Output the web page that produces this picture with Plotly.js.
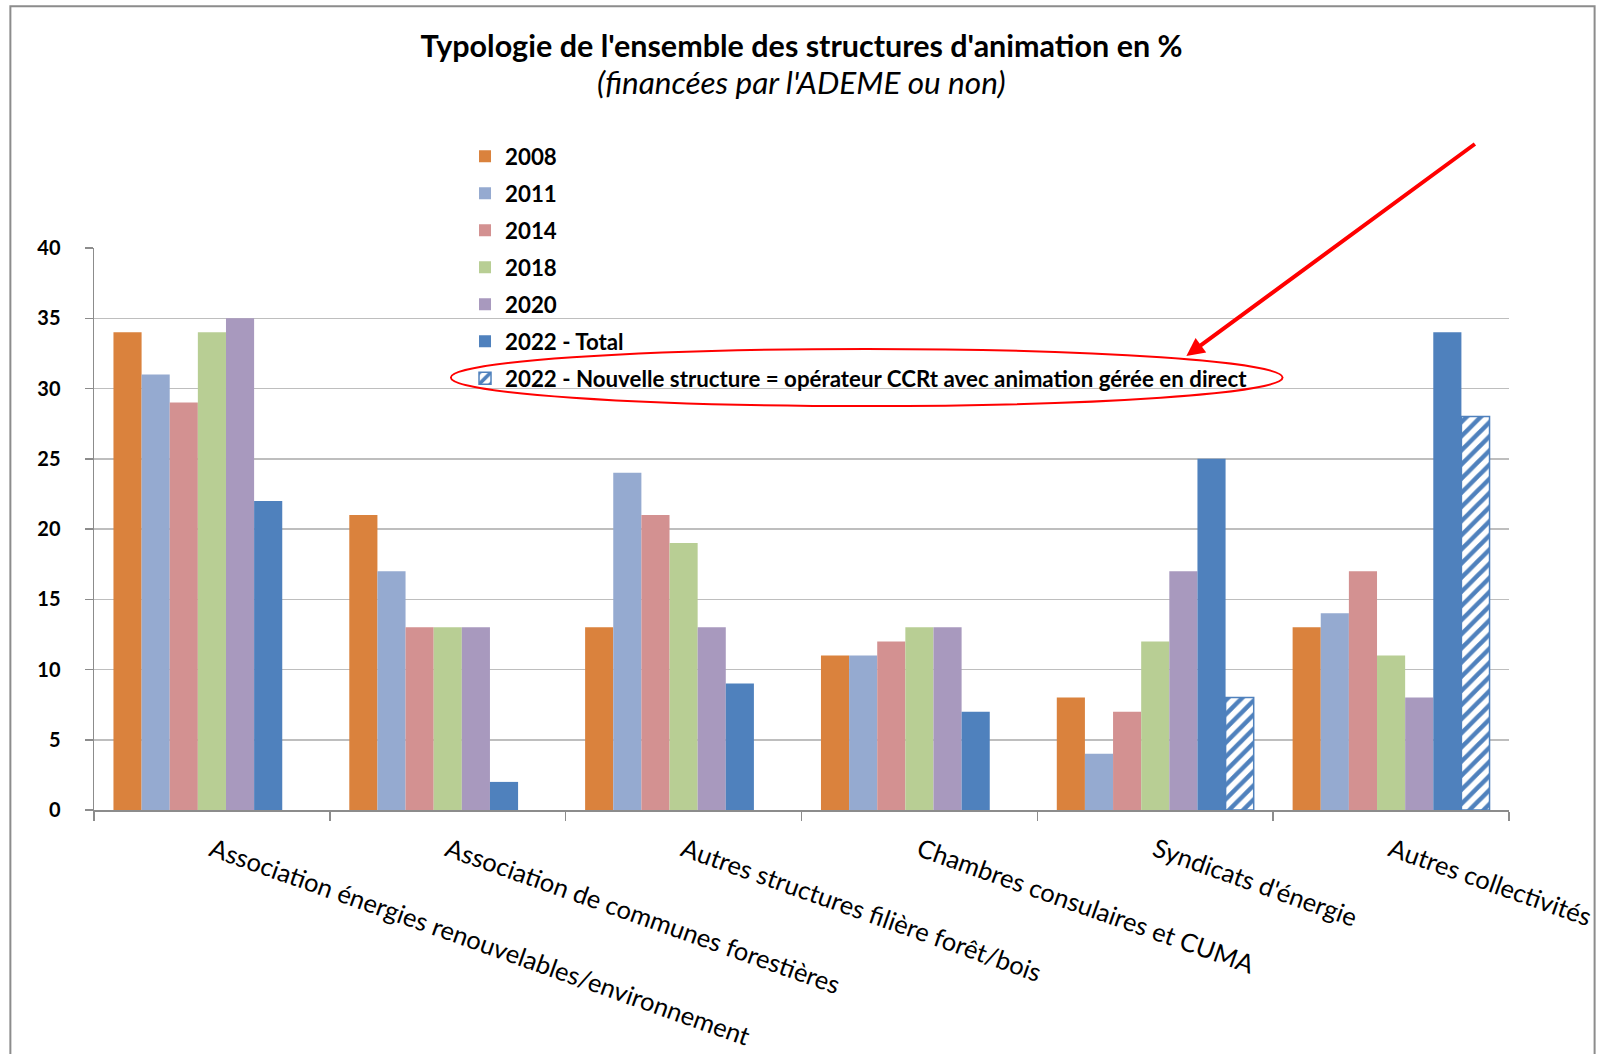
<!DOCTYPE html>
<html>
<head>
<meta charset="utf-8">
<script src="https://cdn.plot.ly/plotly-3.0.1.min.js"></script>
<style>html,body{margin:0;padding:0;background:#fff;}#chart{width:1599px;height:1054px;}</style>
</head>
<body>
<div id="chart"></div>
<script>
const categories = [
  "Association énergies renouvelables/environnement",
  "Association de communes forestières",
  "Autres structures filière forêt/bois",
  "Chambres consulaires et CUMA",
  "Syndicats d'énergie",
  "Autres collectivités"
];
const seriesNames = ["2008", "2011", "2014", "2018", "2020", "2022 - Total",
  "2022 - Nouvelle structure = opérateur CCRt avec animation gérée en direct"];
const v2008 = [34, 21, 13, 11, 8, 13];
const v2011 = [31, 17, 24, 11, 4, 14];
const v2014 = [29, 13, 21, 12, 7, 17];
const v2018 = [34, 13, 19, 13, 12, 11];
const v2020 = [35, 13, 13, 13, 17, 8];
const v2022Total = [22, 2, 9, 7, 25, 34];
const v2022New = [null, null, null, null, 8, 28];
const yTicks = [0, 5, 10, 15, 20, 25, 30, 35, 40];

const colors = ["#DA823D", "#95AAD0", "#D39191", "#B8CE94", "#A899BE", "#4F81BD"];
const values = [v2008, v2011, v2014, v2018, v2020, v2022Total];

const traces = values.map((v, i) => ({
  type: "bar", x: categories, y: v, name: seriesNames[i],
  legendgroup: "g" + i,
  marker: {color: colors[i]},
  hoverinfo: "y+name"
}));
traces.push({
  type: "bar", x: categories, y: v2022New, name: seriesNames[6],
  legendgroup: "g6",
  marker: {
    color: "#ffffff",
    line: {color: "#4F81BD", width: 1.5},
    pattern: {shape: "/", fgcolor: "#4F81BD", bgcolor: "#ffffff", size: 10, solidity: 0.45, fillmode: "replace"}
  },
  hoverinfo: "y+name"
});

const font = "Lato, 'Open Sans', sans-serif";
const layout = {
  width: 1599, height: 1054,
  margin: {l: 94, r: 90, t: 248, b: 244},
  paper_bgcolor: "#ffffff", plot_bgcolor: "#ffffff",
  barmode: "group", bargap: 0.165, bargroupgap: 0,
  font: {family: font, color: "#000"},
  title: {
    text: "Typologie de l'ensemble des structures d'animation en %",
    font: {family: font, size: 30.5, weight: "bold", color: "#000"},
    x: 0.5, xref: "paper", y: 0.956, yref: "container", yanchor: "middle"
  },
  showlegend: true,
  legend: {
    x: 0.2622, xanchor: "left", y: 1.2005, yanchor: "top",
    traceorder: "grouped", tracegroupgap: 5,
    font: {family: font, size: 22.3, weight: "bold", color: "#000"},
    bgcolor: "rgba(0,0,0,0)", itemwidth: 30
  },
  xaxis: {
    type: "category", automargin: false,
    showline: true, linecolor: "#8C8C8C", linewidth: 1.5,
    ticks: "outside", tickson: "boundaries", ticklen: 9, tickcolor: "#8C8C8C", tickwidth: 1.5,
    tickangle: 19.5, ticklabelstandoff: 14,
    tickfont: {family: font, size: 25.5, color: "#000"},
    showgrid: false, zeroline: false, fixedrange: true
  },
  yaxis: {
    range: [0, 40], tickvals: yTicks, ticktext: yTicks.map(String), automargin: false,
    showline: true, linecolor: "#8C8C8C", linewidth: 1.5,
    ticks: "outside", ticklen: 8, tickcolor: "#8C8C8C", tickwidth: 1.5, ticklabelstandoff: 20,
    tickfont: {family: font, size: 20, weight: "bold", color: "#000"},
    showgrid: true, gridcolor: "#BEBEBE", gridwidth: 1.5,
    zeroline: false, fixedrange: true
  },
  annotations: [
    {
      text: "(financées par l'ADEME ou non)",
      xref: "paper", yref: "paper", x: 0.5, y: 1.296, showarrow: false,
      xanchor: "center", yanchor: "middle",
      font: {family: font, size: 31.5, style: "italic", color: "#000"}
    },
    {
      text: "", xref: "paper", yref: "paper", x: 0.772, y: 0.808,
      showarrow: true, arrowhead: 2, arrowsize: 0.9, arrowwidth: 4, arrowcolor: "#FF0000",
      ax: 290, ay: -213, axref: "pixel", ayref: "pixel"
    }
  ],
  shapes: [
    {type: "circle", xref: "paper", yref: "paper", x0: 0.2522, x1: 0.840, y0: 0.7187, y1: 0.8203,
     line: {color: "#FF0000", width: 2}},
    {type: "rect", xref: "paper", yref: "paper", x0: -0.0591, x1: 1.0605, y0: -0.49, y1: 1.430,
     line: {color: "#8C8C8C", width: 2}, fillcolor: "rgba(0,0,0,0)", layer: "below"}
  ]
};

Plotly.newPlot("chart", traces, layout, {displayModeBar: false, staticPlot: true});
</script>
</body>
</html>
